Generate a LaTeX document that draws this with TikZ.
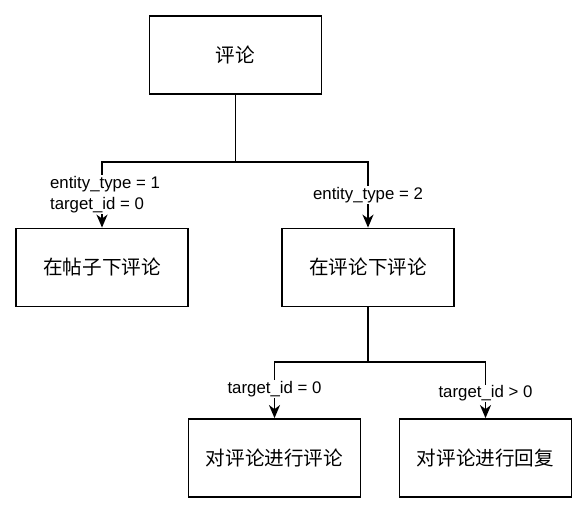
\documentclass[tikz,border=0pt]{standalone}
\usepackage{fontspec}
\setmainfont{Liberation Sans}
\newfontfamily\cjk{Noto Sans CJK SC}
\usetikzlibrary{arrows.meta}

\begin{document}
\begin{tikzpicture}[x=1pt, y=-1pt,
  box/.style={draw, line width=1.8pt, minimum width=172pt, minimum height=78pt,
    font=\cjk\fontsize{19.6}{24}\selectfont},
  cond/.style={fill=white, inner sep=1pt, align=left,
    font=\fontsize{16.8}{21}\selectfont},
  link/.style={line width=1.8pt},
  arr/.style={link, -{Stealth[length=13pt, width=11pt, inset=4pt]}}]
  \useasboundingbox (0,0) rectangle (588,514);

  % Boxes
  \node[box] (comment) at (235.5,55) {评论};
  \node[box] (onpost) at (102,267.5) {在帖子下评论};
  \node[box] (oncomment) at (368,267.5) {在评论下评论};
  \node[box] (replycomment) at (274.5,458) {对评论进行评论};
  \node[box] (replyuser) at (485.5,458) {对评论进行回复};

  % Branch points
  \coordinate (split1) at (235.5,162);
  \coordinate (split2) at (368,362);

  % First level
  \draw[link] (comment.south) -- (split1);
  \draw[arr] (split1) -| node[cond, pos=0.75, xshift=3pt] {entity\_type = 1\\target\_id = 0} (onpost.north);
  \draw[arr] (split1) -| node[cond, pos=0.75] {entity\_type = 2} (oncomment.north);

  % Second level
  \draw[link] (oncomment.south) -- (split2);
  \draw[arr] (split2) -| node[cond, pos=0.74] {target\_id = 0} (replycomment.north);
  \draw[arr] (split2) -| node[cond, pos=0.78] {target\_id > 0} (replyuser.north);
\end{tikzpicture}
\end{document}
